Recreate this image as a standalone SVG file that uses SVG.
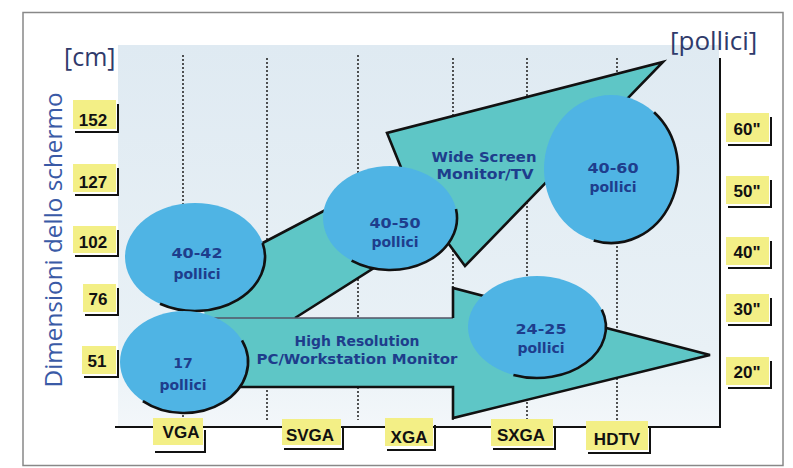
<svg xmlns="http://www.w3.org/2000/svg" width="793" height="468" viewBox="0 0 793 468">
<defs>
<linearGradient id="bg" x1="0" y1="0" x2="0" y2="1">
<stop offset="0" stop-color="#dfeaf2"/>
<stop offset="0.8" stop-color="#e9f1f6"/>
<stop offset="1" stop-color="#f3f7fa"/>
</linearGradient>
</defs>
<style>
.dot{stroke:#2a2a2a;stroke-width:1.6;stroke-dasharray:2 2;fill:none}
.teal{fill:#5ec6c6;stroke:none}
.edge{fill:none;stroke:#111;stroke-width:2.6;stroke-linejoin:miter}
.ell{fill:#4fb4e4}
.arc{fill:none;stroke:#111;stroke-width:2.6}
.in{font-family:"DejaVu Sans",sans-serif;font-weight:bold;fill:#1e3d8c;text-anchor:middle;font-size:14px}
.lb{fill:#f3ef86}
.sh{fill:none;stroke:#111;stroke-width:2}
.lt{font-family:"Liberation Sans",Arial,sans-serif;font-weight:bold;font-size:17px;fill:#111;text-anchor:middle}
.unit{font-family:"Open Sans","Noto Sans",sans-serif;fill:#2f3a6b}
</style>
<rect x="0" y="0" width="793" height="468" fill="#ffffff"/>
<rect x="23" y="12.5" width="760" height="453" fill="none" stroke="#888" stroke-width="1.5"/>
<rect x="118" y="45" width="601" height="382" fill="url(#bg)"/>
<g id="grid">
<line class="dot" x1="183" y1="55" x2="183" y2="420"/>
<line class="dot" x1="267" y1="58" x2="267" y2="420"/>
<line class="dot" x1="358" y1="55" x2="358" y2="420"/>
<line class="dot" x1="453" y1="58" x2="453" y2="420"/>
<line class="dot" x1="527" y1="58" x2="527" y2="420"/>
<line class="dot" x1="617" y1="58" x2="617" y2="420"/>
</g>
<g id="axes">
<line x1="115" y1="427" x2="721" y2="427" stroke="#111" stroke-width="2"/>
<line x1="720" y1="58" x2="720" y2="428" stroke="#111" stroke-width="2"/>
</g>
<g id="connectors">
<g id="arrow-wide">
<polygon class="teal" points="200,276 402,170 387,133 663,62 465,266 437,228 295,318 205,318"/>
<path class="edge" d="M255,247 L402,170 L387,133 L663,62 L465,266 L437,228 L295,318" stroke-width="2.2"/>
</g>
<g id="arrow-hires">
<polygon class="teal" points="205,318 453,318 453,288 710,355 453,418 453,387 200,387"/>
<path d="M207,318 L453,318" fill="none" stroke="#556" stroke-width="1.3"/>
<path class="edge" d="M453,318 L453,288 L710,355 L453,418 L453,387 L240,387" stroke-width="2.8"/>
</g>
</g>
<g id="node-40-42">
<ellipse class="ell" cx="195" cy="257" rx="70" ry="54"/>
<path class="arc" d="M262.6,243 A70,54 0 0 1 160,303.8"/>
<text class="in" x="197" y="258" textLength="51" lengthAdjust="spacingAndGlyphs">40-42</text>
<text class="in" x="197" y="279">pollici</text>
</g>
<g id="node-17">
<ellipse class="ell" cx="184" cy="362" rx="64" ry="51"/>
<path class="arc" d="M242,340.4 A64,51 0 0 1 142.9,401.1"/>
<text class="in" x="183" y="368">17</text>
<text class="in" x="183" y="390">pollici</text>
</g>
<g id="node-40-50">
<ellipse class="ell" cx="390" cy="218" rx="67" ry="52"/>
<path class="arc" d="M456,209 A67,52 0 0 1 351.6,260.6"/>
<text class="in" x="395" y="228" textLength="51" lengthAdjust="spacingAndGlyphs">40-50</text>
<text class="in" x="395" y="247">pollici</text>
</g>
<g id="node-40-60">
<ellipse class="ell" cx="611" cy="169" rx="67" ry="74"/>
<path class="arc" d="M654.1,112.3 A67,74 0 0 1 593.7,240.5"/>
<text class="in" x="613" y="173" textLength="51" lengthAdjust="spacingAndGlyphs">40-60</text>
<text class="in" x="613" y="192">pollici</text>
</g>
<g id="node-24-25">
<ellipse class="ell" cx="537" cy="327" rx="69" ry="51"/>
<path class="arc" d="M601.8,309.6 A69,51 0 0 1 513.4,374.9"/>
<text class="in" x="541" y="334" textLength="51" lengthAdjust="spacingAndGlyphs">24-25</text>
<text class="in" x="541" y="353">pollici</text>
</g>
<g id="label-wide">
<text class="in" x="484" y="162" textLength="105" lengthAdjust="spacingAndGlyphs">Wide Screen</text>
<text class="in" x="485" y="179" textLength="97" lengthAdjust="spacingAndGlyphs">Monitor/TV</text>
</g>
<g id="label-hires">
<text class="in" x="357" y="346" textLength="125" lengthAdjust="spacingAndGlyphs">High Resolution</text>
<text class="in" x="357" y="364" textLength="201" lengthAdjust="spacingAndGlyphs">PC/Workstation Monitor</text>
</g>
<g id="left-labels">
<g id="cm-152"><rect class="lb" x="73" y="100" width="43" height="29"/><path class="sh" d="M118,104 V132 H75"/><text class="lt" x="93" y="126">152</text></g>
<g id="cm-127"><rect class="lb" x="73" y="164" width="43" height="28"/><path class="sh" d="M118,168 V195 H75"/><text class="lt" x="93" y="188">127</text></g>
<g id="cm-102"><rect class="lb" x="73" y="226" width="43" height="27"/><path class="sh" d="M118,230 V256 H75"/><text class="lt" x="93" y="248">102</text></g>
<g id="cm-76"><rect class="lb" x="83" y="284" width="33" height="28"/><path class="sh" d="M118,288 V315 H85"/><text class="lt" x="98" y="305">76</text></g>
<g id="cm-51"><rect class="lb" x="82" y="346" width="34" height="28"/><path class="sh" d="M118,350 V377 H84"/><text class="lt" x="97" y="367">51</text></g>
</g>
<g id="right-labels">
<g id="in-60"><rect class="lb" x="726" y="113" width="43" height="29"/><path class="sh" d="M771,117 V145 H728"/><text class="lt" x="747" y="135">60"</text></g>
<g id="in-50"><rect class="lb" x="726" y="176" width="43" height="28"/><path class="sh" d="M771,180 V207 H728"/><text class="lt" x="747" y="197">50"</text></g>
<g id="in-40"><rect class="lb" x="726" y="237" width="43" height="28"/><path class="sh" d="M771,241 V268 H728"/><text class="lt" x="747" y="258">40"</text></g>
<g id="in-30"><rect class="lb" x="726" y="294" width="43" height="28"/><path class="sh" d="M771,298 V325 H728"/><text class="lt" x="747" y="315">30"</text></g>
<g id="in-20"><rect class="lb" x="726" y="357" width="43" height="28"/><path class="sh" d="M771,361 V388 H728"/><text class="lt" x="747" y="378">20"</text></g>
</g>
<g id="bottom-labels">
<g id="res-vga"><rect class="lb" x="153" y="418" width="50" height="27"/><path class="sh" d="M205,430 V452 H155"/><text class="lt" x="181" y="438" fill="#27386b">VGA</text></g>
<g id="res-svga"><rect class="lb" x="282" y="419" width="59" height="26"/><path class="sh" d="M343,426 V449 H284"/><text class="lt" x="310" y="441">SVGA</text></g>
<g id="res-xga"><rect class="lb" x="385" y="418" width="48" height="28"/><path class="sh" d="M435,425 V450 H387"/><text class="lt" x="409" y="443">XGA</text></g>
<g id="res-sxga"><rect class="lb" x="491" y="419" width="62" height="27"/><path class="sh" d="M555,426 V449 H493"/><text class="lt" x="521" y="441">SXGA</text></g>
<g id="res-hdtv"><rect class="lb" x="586" y="421" width="62" height="29"/><path class="sh" d="M650,428 V453 H588"/><text class="lt" x="617" y="445">HDTV</text></g>
</g>
<g id="titles">
<text class="unit" x="64" y="66" font-size="25">[cm]</text>
<text class="unit" x="670" y="50" font-size="26">[pollici]</text>
<text x="62" y="240" transform="rotate(-90 62 240)" font-family="'Open Sans','Noto Sans',sans-serif" font-size="24" fill="#3a5aa6" text-anchor="middle" textLength="295" lengthAdjust="spacingAndGlyphs">Dimensioni dello schermo</text>
</g>
</svg>
